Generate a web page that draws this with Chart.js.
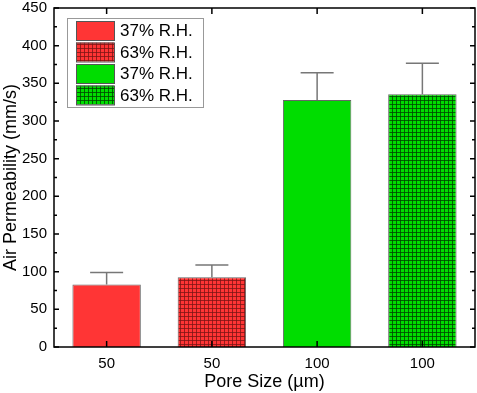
<!DOCTYPE html>
<html>
<head>
<meta charset="utf-8">
<script src="https://cdn.jsdelivr.net/npm/chart.js@4"></script>
<style>
  html, body { margin: 0; padding: 0; background: #fff; }
  #wrap { width: 477px; height: 393px; }
</style>
</head>
<body>
<div id="wrap"><canvas id="chart" width="477" height="393"></canvas></div>
<script>
// data
const poreSizes = ['50', '50', '100', '100'];
const seriesLabels = ['37% R.H.', '63% R.H.', '37% R.H.', '63% R.H.'];
const permeability = [83, 92.5, 328, 335.5];
const errorUp = [16, 16.5, 36, 41];
const hatched = [false, true, false, true];
const yTicks = [0, 50, 100, 150, 200, 250, 300, 350, 400, 450];

const RED = '#ff3535';
const GREEN = '#00dd00';
const baseColors = [RED, RED, GREEN, GREEN];
const FONT = 'Liberation Sans';

function gridPattern(color, line) {
    const c = document.createElement('canvas');
    c.width = 4; c.height = 4;
    const g = c.getContext('2d');
    g.fillStyle = color;
    g.fillRect(0, 0, 4, 4);
    g.fillStyle = line;
    g.fillRect(0, 0, 4, 1);
    g.fillRect(0, 0, 1, 4);
    return g.createPattern(c, 'repeat');
}

function fillFor(i) {
    if (!hatched[i]) return baseColors[i];
    return baseColors[i] === RED ? gridPattern(RED, 'rgba(120,20,20,0.75)') : gridPattern(GREEN, 'rgba(0,70,0,0.8)');
}

const ctx = document.querySelector('#chart').getContext('2d');

// error bars (upper half only), drawn behind the bars
const errorBars = {
    id: 'errorBars',
    beforeDatasetsDraw(chart) {
        const c = chart.ctx;
        const y = chart.scales.y;
        const meta = chart.getDatasetMeta(0);
        c.save();
        c.strokeStyle = '#777';
        c.lineWidth = 1.5;
        meta.data.forEach((bar, i) => {
            const top = y.getPixelForValue(permeability[i] + errorUp[i]);
            c.beginPath();
            c.moveTo(bar.x, bar.y);
            c.lineTo(bar.x, top);
            c.moveTo(bar.x - 16.5, top);
            c.lineTo(bar.x + 16.5, top);
            c.stroke();
        });
        c.restore();
    }
};

// frame and inward ticks on all four sides
const frame = {
    id: 'frame',
    afterDatasetsDraw(chart) {
        const c = chart.ctx;
        const a = chart.chartArea;
        const y = chart.scales.y;
        const x = chart.scales.x;
        c.save();
        c.strokeStyle = '#000';
        c.lineWidth = 1.5;
        c.strokeRect(a.left, a.top, a.right - a.left, a.bottom - a.top);
        c.beginPath();
        for (let v = 0; v <= 450; v += 25) {
            const p = y.getPixelForValue(v);
            const len = v % 50 === 0 ? 5 : 3;
            c.moveTo(a.left, p); c.lineTo(a.left + len, p);
            c.moveTo(a.right, p); c.lineTo(a.right - len, p);
        }
        poreSizes.forEach((_, i) => {
            const p = x.getPixelForValue(i);
            c.moveTo(p, a.bottom); c.lineTo(p, a.bottom - 6);
            c.moveTo(p, a.top); c.lineTo(p, a.top + 6);
        });
        c.stroke();

        // legend box in the upper left corner
        const lx = a.left + 13, ly = a.top + 10;
        c.fillStyle = '#fff';
        c.fillRect(lx, ly, 136, 89);
        c.strokeStyle = '#999';
        c.lineWidth = 1;
        c.strokeRect(lx + 0.5, ly + 0.5, 136, 89);
        c.font = '17px "' + FONT + '"';
        c.textBaseline = 'middle';
        seriesLabels.forEach((t, i) => {
            const ry = ly + 3 + i * 21.5;
            c.fillStyle = fillFor(i);
            c.fillRect(lx + 9, ry, 38, 19);
            c.strokeStyle = '#555';
            c.strokeRect(lx + 9.5, ry + 0.5, 38, 19);
            c.fillStyle = '#000';
            c.fillText(t, lx + 53, ry + 10.5);
        });
        c.restore();
    }
};

new Chart(ctx, {
    type: 'bar',
    data: {
        labels: poreSizes,
        datasets: [{
            label: 'Air Permeability',
            data: permeability,
            backgroundColor: permeability.map((_, i) => fillFor(i)),
            borderColor: '#666',
            borderWidth: 1,
            barPercentage: 0.65,
            categoryPercentage: 1
        }]
    },
    options: {
        responsive: false,
        animation: false,
        layout: { padding: { top: 8, right: 2, left: 0, bottom: 0 } },
        plugins: {
            legend: { display: false },
            tooltip: { enabled: false }
        },
        scales: {
            x: {
                grid: { display: false, drawTicks: false },
                border: { display: false },
                ticks: { color: '#000', font: { family: FONT, size: 15 }, padding: 8 },
                title: { display: true, text: 'Pore Size (µm)', color: '#000', font: { family: FONT, size: 18 }, padding: { top: 0, bottom: 0 } },
                afterFit: s => { s.height = 46; s.paddingLeft = 0; s.paddingRight = 0; }
            },
            y: {
                min: 0, max: 450,
                afterBuildTicks: s => { s.ticks = yTicks.map(v => ({ value: v })); },
                grid: { display: false, drawTicks: false },
                border: { display: false },
                ticks: { color: '#000', font: { family: FONT, size: 15 }, padding: 7 },
                title: { display: true, text: 'Air Permeability (mm/s)', color: '#000', font: { family: FONT, size: 18 }, padding: { top: 0, bottom: 2 } },
                afterFit: s => { s.width = 54; s.paddingTop = 0; s.paddingBottom = 0; }
            }
        }
    },
    plugins: [errorBars, frame]
});
</script>
</body>
</html>
